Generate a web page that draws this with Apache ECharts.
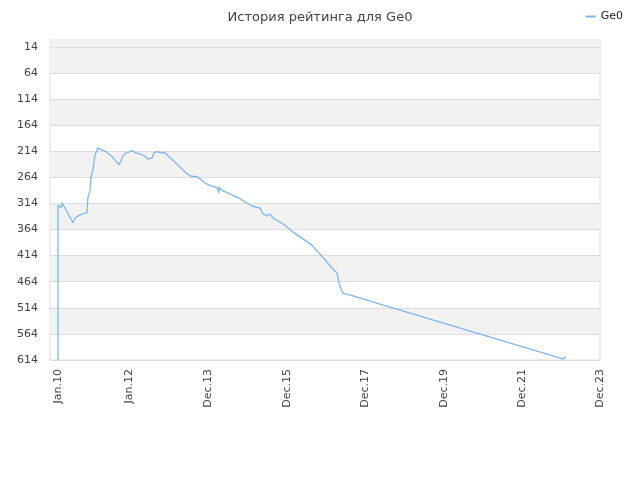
<!DOCTYPE html>
<html><head><meta charset="utf-8">
<script src="https://cdn.jsdelivr.net/npm/echarts@6/dist/echarts.min.js"></script>
<style>html,body{margin:0;padding:0;background:#fff}#c{width:640px;height:480px}</style>
</head><body><div id="c"></div>
<script>
// x positions (point index along the series), rating values
const xIdx = [0,0,2,3,4,9,15,17,20,26,29,30,32,33,35,37,38,40,42,48,54,57,61,63,65,68,72,75,77,82,87,90,92,94,96,99,104,107,117,127,130,133,139,142,147,152,159,161,161,162,165,182,194,202,205,209,212,215,225,235,245,254,267,275,279,281,283,285,295,322,505,508];
const rating = [614,317,320,323,313,330,351,342,338,333,332,302,290,263,250,221,220,208,210,215,224,231,240,232,223,217,215,213,217,219,224,229,229,227,217,215,217,217,235,254,258,262,263,267,275,280,284,294,282,286,290,305,319,323,334,338,334,342,353,369,382,394,422,440,447,466,478,486,491,507,612,608];
const yTicks = [14,64,114,164,214,264,314,364,414,464,514,564,614];
const xTickIdx = [0,71,150,229,307,386,464,542];
const xTickLabels = ['Jan.10','Jan.12','Dec.13','Dec.15','Dec.17','Dec.19','Dec.21','Dec.23'];
const greyBands = [[1,64],[114,164],[214,264],[314,364],[414,464],[514,564]];

const chart = echarts.init(document.getElementById('c'));
chart.setOption({
  animation:false,
  title:{text:'История рейтинга для Ge0',left:'center',top:6,textStyle:{fontSize:13,fontWeight:'normal',color:'#444',fontFamily:'DejaVu Sans'}},
  legend:{right:12,top:6,icon:'rect',itemWidth:10,itemHeight:2,itemGap:6,textStyle:{fontSize:11,color:'#222',fontFamily:'DejaVu Sans'},data:['Ge0']},
  grid:{left:50,right:40,top:40,bottom:120,show:true,borderColor:'#dddddd',borderWidth:1,containLabel:false},
  xAxis:{type:'value',min:-8,max:542,
    axisLine:{show:false},axisTick:{show:false},splitLine:{show:false},
    axisLabel:{customValues:xTickIdx,rotate:90,fontSize:11,color:'#444',fontFamily:'DejaVu Sans',margin:9,
      formatter:v=>{const i=xTickIdx.indexOf(v);return i>=0?xTickLabels[i]:'';}}},
  yAxis:{type:'value',inverse:true,min:1,max:614,
    axisLine:{show:false},axisTick:{show:false},splitLine:{show:false},
    axisLabel:{customValues:yTicks,fontSize:11,color:'#444',fontFamily:'DejaVu Sans',margin:12}},
  series:[{name:'Ge0',type:'line',showSymbol:false,
    data:xIdx.map((x,i)=>[x,rating[i]]),
    lineStyle:{width:1.3,color:'#7fb6f0'},itemStyle:{color:'#7fb6f0'},z:5,
    markArea:{silent:true,itemStyle:{color:'#f2f2f2'},data:greyBands.map(b=>[{yAxis:b[0]},{yAxis:b[1]}])},
    markLine:{silent:true,symbol:'none',label:{show:false},lineStyle:{color:'#dddddd',type:'solid',width:1},
      data:yTicks.map(t=>({yAxis:t}))}
  }]
});
</script></body></html>
